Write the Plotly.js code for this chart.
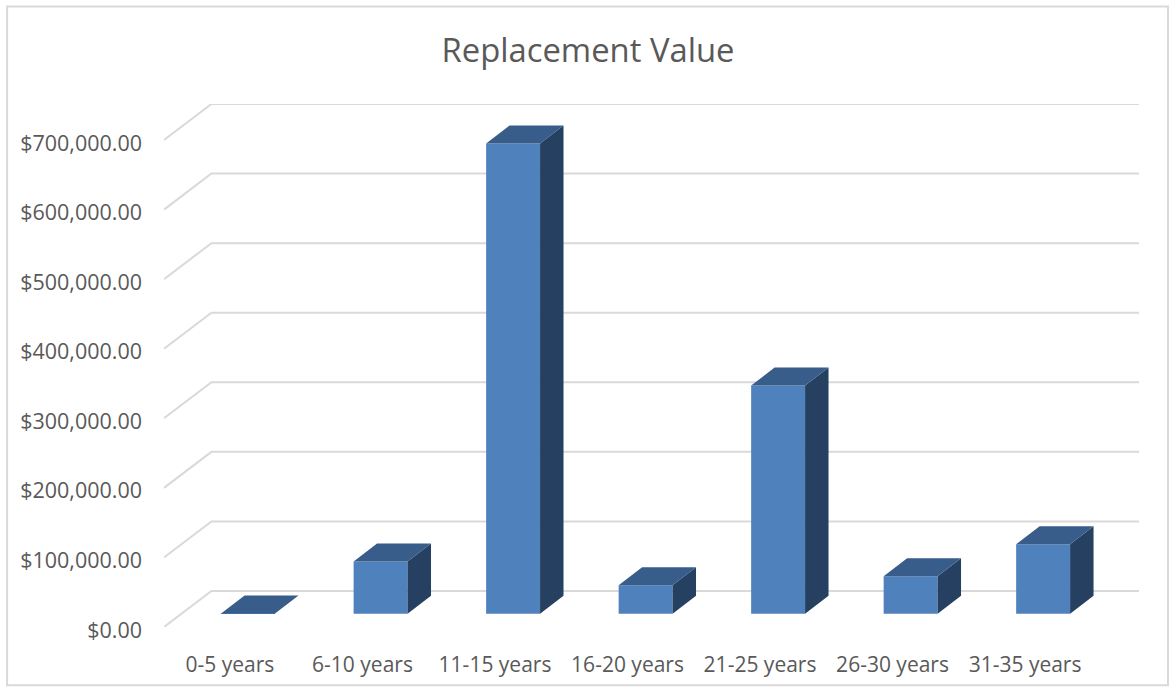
<!DOCTYPE html>
<html>
<head>
<meta charset="utf-8">
<script src="https://cdn.plot.ly/plotly-3.0.1.min.js"></script>
<style>html,body{margin:0;padding:0;background:#fff;overflow:hidden}#chart{width:1171px;height:689px}</style>
</head>
<body>
<div id="chart"></div>
<script>
const categories = ["0-5 years","6-10 years","11-15 years","16-20 years","21-25 years","26-30 years","31-35 years"];
const replacementValue = [500, 75000, 676000, 41000, 328000, 54000, 100000];
const valueTicks = [0,100000,200000,300000,400000,500000,600000,700000];
const valueTickLabels = ["$0.00","$100,000.00","$200,000.00","$300,000.00","$400,000.00","$500,000.00","$600,000.00","$700,000.00"];

// Pseudo-3D geometry in axis units
const xRange = [-0.498, 6.86], yRange = [0, 751800];
const wallDx = 0.358, wallDy = 51800;
const barBase = 19000, barWidth = 0.407, barOffset = -0.067;
const barDx = 0.177, barDy = 25900;
const idx = categories.map((_, i) => i);

const topX = [], topY = [], sideX = [], sideY = [];
replacementValue.forEach((v, i) => {
  const l = i + barOffset, r = l + barWidth, b = barBase, t = barBase + v;
  topX.push(l, r, r + barDx, l + barDx, l, null);
  topY.push(t, t, t + barDy, t + barDy, t, null);
  sideX.push(r, r + barDx, r + barDx, r, r, null);
  sideY.push(b, b + barDy, t + barDy, t, b, null);
});

const grid = "#D9D9D9", text = "#595959", fontFam = '"Open Sans", sans-serif';

const shapes = valueTicks.map(v => ({
  type: "path", xref: "x", yref: "y", layer: "below",
  path: `M ${xRange[0]} ${v} L ${xRange[0] + wallDx} ${v + wallDy} L ${xRange[1]} ${v + wallDy}`,
  line: {color: grid, width: 2}
}));
const W = 1171, H = 689, mL = 163.5, mR = 32, mT = 104, mB = 62.3;
const pw = W - mL - mR, ph = H - mT - mB;
shapes.push({
  type: "rect", xref: "paper", yref: "paper", layer: "below",
  x0: (6.5 - mL) / pw, x1: (1168 - mL) / pw,
  y0: (H - 685 - mB) / ph, y1: (H - 6.5 - mB) / ph,
  line: {color: grid, width: 2}, fillcolor: "rgba(0,0,0,0)"
});

const traces = [
  {type: "bar", x: idx, y: replacementValue, base: barBase, width: barWidth, offset: barOffset,
   marker: {color: "#4F81BD", line: {width: 0}}, hoverinfo: "skip", showlegend: false},
  {type: "scatter", mode: "lines", x: sideX, y: sideY, fill: "toself", fillcolor: "#254061",
   line: {width: 0, color: "#254061"}, hoverinfo: "skip", showlegend: false},
  {type: "scatter", mode: "lines", x: topX, y: topY, fill: "toself", fillcolor: "#385D8A",
   line: {width: 0, color: "#385D8A"}, hoverinfo: "skip", showlegend: false}
];

const layout = {
  width: W, height: H, autosize: false,
  margin: {l: mL, r: mR, t: mT, b: mB, pad: 0},
  paper_bgcolor: "#fff", plot_bgcolor: "rgba(0,0,0,0)",
  showlegend: false,
  title: {text: "Replacement Value", font: {family: fontFam, size: 32.8, color: text},
          xref: "container", yref: "container", x: 588 / W, xanchor: "center",
          y: 1 - 51 / H, yanchor: "middle"},
  xaxis: {type: "linear", range: xRange, tickmode: "array", tickvals: idx, ticktext: categories,
          showgrid: false, zeroline: false, showline: false, ticks: "", ticklabelstandoff: 23,
          tickfont: {family: fontFam, size: 21, color: text}, automargin: false, fixedrange: true},
  yaxis: {type: "linear", range: yRange, tickmode: "array", tickvals: valueTicks, ticktext: valueTickLabels,
          showgrid: false, zeroline: false, showline: false, ticks: "", ticklabelstandoff: 21,
          ticklabelshift: 3,
          tickfont: {family: fontFam, size: 21.5, color: text}, automargin: false, fixedrange: true},
  shapes
};
Plotly.newPlot("chart", traces, layout, {displayModeBar: false, responsive: false});
</script>
</body>
</html>
